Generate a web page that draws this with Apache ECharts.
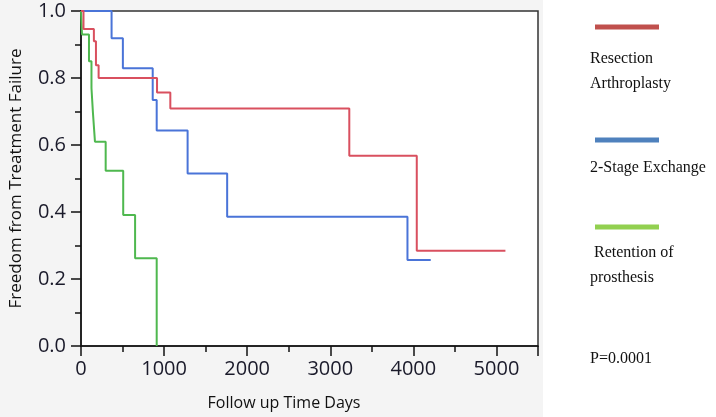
<!DOCTYPE html>
<html>
<head>
<meta charset="utf-8">
<script src="https://cdn.jsdelivr.net/npm/echarts@6/dist/echarts.min.js"></script>
<style>
html,body{margin:0;padding:0;background:#fff;}
#c{width:716px;height:417px;}
</style>
</head>
<body>
<div id="c"></div>
<script>
// Kaplan-Meier step data
const seriesNames = ['Resection\nArthroplasty', '2-Stage Exchange', ' Retention of\nprosthesis'];
const resectionDays = [0, 30, 155, 180, 212, 915, 1075, 3229, 4041, 5108];
const resectionSurv = [1, 0.946, 0.91, 0.838, 0.80, 0.757, 0.709, 0.568, 0.284, 0.284];
const stageDays = [0, 368, 504, 863, 911, 1283, 1759, 3929, 4209];
const stageSurv = [1, 0.919, 0.829, 0.734, 0.643, 0.515, 0.386, 0.257, 0.257];
const retentionDays = [0, 12, 96, 126, 144, 168, 297, 508, 651, 911];
const retentionSurv = [1, 0.93, 0.85, 0.77, 0.695, 0.61, 0.523, 0.391, 0.262, 0];
const pValueText = 'P=0.0001';

const lineColors = ['#d9505f', '#4a74d8', '#4fb84f'];
const legendColors = ['#c0504d', '#4f81bd', '#92d050'];

function pairs(xs, ys) { return xs.map((x, i) => [x, ys[i]]); }
const dataSets = [pairs(resectionDays, resectionSurv), pairs(stageDays, stageSurv), pairs(retentionDays, retentionSurv)];

const legendLineY = [27, 140, 227];
const legendTextY = [46, 155, 240];
const graphics = [{
  type: 'rect', left: 0, top: 0, z: -10,
  shape: { width: 543, height: 417 },
  style: { fill: '#f4f4f4' }, silent: true
}];
seriesNames.forEach((n, i) => {
  graphics.push({
    type: 'line', silent: true,
    shape: { x1: 595, y1: legendLineY[i], x2: 659, y2: legendLineY[i] },
    style: { stroke: legendColors[i], lineWidth: 5 }
  });
  graphics.push({
    type: 'text', left: 590, top: legendTextY[i], silent: true,
    style: { text: n, font: '16px "Liberation Serif", "Times New Roman", serif', fill: '#111', lineHeight: 25 }
  });
});
graphics.push({
  type: 'text', left: 590, top: 351, silent: true,
  style: { text: pValueText, font: '16px "Liberation Serif", "Times New Roman", serif', fill: '#111' }
});

const chart = echarts.init(document.getElementById('c'));
chart.setOption({
  animation: false,
  backgroundColor: '#fff',
  grid: { left: 79, right: 178, top: 11, bottom: 71, show: true, backgroundColor: '#fff', borderColor: '#333', borderWidth: 1.5 },
  xAxis: {
    type: 'value', min: 0, max: 5500, interval: 1000,
    name: 'Follow up Time Days', nameLocation: 'middle', nameGap: 49,
    nameTextStyle: { fontFamily: 'Open Sans', fontSize: 16, color: '#111', padding: [0, 51, 0, 0] },
    axisLine: { show: true, lineStyle: { color: '#111', width: 1.5 } },
    axisTick: { show: true, length: 10, lineStyle: { color: '#111', width: 1.5 } },
    minorTick: { show: true, splitNumber: 2, length: 6, lineStyle: { color: '#111', width: 1.5 } },
    axisLabel: { fontFamily: 'Open Sans', fontSize: 20, color: '#1a1a2a', margin: 13, showMaxLabel: false, formatter: v => String(v) },
    splitLine: { show: false }
  },
  yAxis: {
    type: 'value', min: 0, max: 1, interval: 0.2,
    name: 'Freedom from Treatment Failure', nameLocation: 'middle', nameGap: 56,
    nameTextStyle: { fontFamily: 'Open Sans', fontSize: 17, color: '#111' },
    axisLine: { show: true, lineStyle: { color: '#111', width: 1.5 } },
    axisTick: { show: true, length: 10, lineStyle: { color: '#111', width: 1.5 } },
    minorTick: { show: true, splitNumber: 2, length: 6, lineStyle: { color: '#111', width: 1.5 } },
    axisLabel: { fontFamily: 'Open Sans', fontSize: 20, color: '#1a1a2a', margin: 15, formatter: v => v.toFixed(1) },
    splitLine: { show: false }
  },
  graphic: graphics,
  series: dataSets.map((d, i) => ({
    type: 'line', step: 'end', data: d, showSymbol: false, symbol: 'none',
    lineStyle: { color: lineColors[i], width: 2 }, z: 3 - i
  }))
});
</script>
</body>
</html>
